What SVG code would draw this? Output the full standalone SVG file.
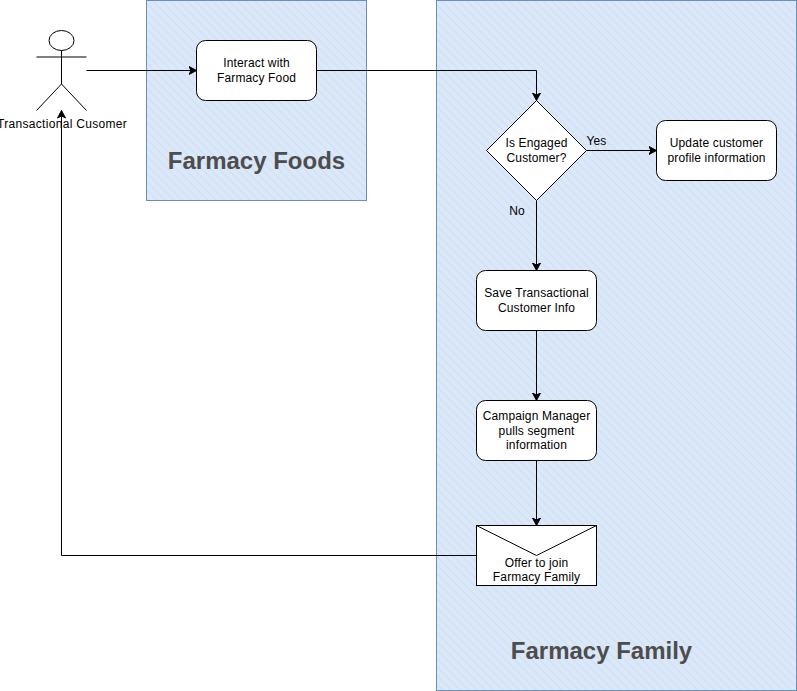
<svg xmlns="http://www.w3.org/2000/svg" width="797" height="691" viewBox="0 0 797 691">
<style>
text{font-family:"Liberation Sans",Arial,sans-serif;font-size:12px;fill:#000;text-anchor:middle;letter-spacing:.14px}
.box{fill:#fff;stroke:#000;stroke-width:1}
.zone{fill:url(#h);stroke:#6c8ebf;stroke-width:1}
.title{font-size:24px;font-weight:bold;fill:#4d4d4d;letter-spacing:0}
.c{fill:none;stroke:#000;stroke-width:1;marker-end:url(#a)}
</style>
<defs>
<pattern id="h" width="6" height="6" patternUnits="userSpaceOnUse" patternTransform="rotate(45)">
<rect width="6" height="6" fill="#dae8fc"/><rect width="6" height="1.2" y="0" fill="#d6dfe9"/>
</pattern>
<marker id="a" markerUnits="userSpaceOnUse" markerWidth="10" markerHeight="10" refX="8" refY="4.5" orient="auto">
<path d="M0.5 0.5L8 4.5L0.5 8.5L2.5 4.5Z" fill="#000" stroke="#000" stroke-width="1"/>
</marker>
</defs>
<g id="zone-foods"><rect class="zone" x="146.500" y="0.500" width="220" height="200"/><text class="title" x="256.500" y="169">Farmacy Foods</text></g>
<g id="zone-family"><rect class="zone" x="436.500" y="0.500" width="360" height="690"/><text class="title" x="601.500" y="659">Farmacy Family</text></g>
<g id="connectors">
<path class="c" d="M86.500 70.500H196.500"/>
<path class="c" d="M316.500 70.500H536.500V100.500"/>
<path class="c" d="M586.500 150.500H656.500"/>
<path class="c" d="M536.500 200.500V270.500"/>
<path class="c" d="M536.500 330.500V400.500"/>
<path class="c" d="M536.500 460.500V525.500"/>
<path class="c" d="M476.500 555.500H61.500V110.500"/>
<text x="596.500" y="145">Yes</text>
<text x="517" y="215">No</text>
</g>
<g id="actor" fill="none" stroke="#000">
<ellipse cx="61.500" cy="40.500" rx="12.500" ry="10" fill="#fff"/>
<path d="M61.500 50.500V84M36.500 57H86.500" fill="none"/>
<path d="M36.500 110.500L61.500 84L86.500 110.500" fill="none"/>
<text x="62" y="128" stroke="none" textLength="130" lengthAdjust="spacing">Transactional Cusomer</text>
</g>
<g id="interact"><rect class="box" x="196.500" y="40.500" width="120" height="60" rx="9"/><text x="256.500" y="67">Interact with</text><text x="256.500" y="82">Farmacy Food</text></g>
<g id="engaged"><path class="box" d="M536.500 100.500L586.500 150.500L536.500 200.500L486.500 150.500Z"/><text x="536.500" y="147">Is Engaged</text><text x="536.500" y="162">Customer?</text></g>
<g id="update"><rect class="box" x="656.500" y="120.500" width="120" height="60" rx="9"/><text x="716.500" y="147">Update customer</text><text x="716.500" y="162">profile information</text></g>
<g id="save"><rect class="box" x="476.500" y="270.500" width="120" height="60" rx="9"/><text x="536.500" y="297">Save Transactional</text><text x="536.500" y="312">Customer Info</text></g>
<g id="campaign"><rect class="box" x="476.500" y="400.500" width="120" height="60" rx="9"/><text x="536.500" y="420">Campaign Manager</text><text x="536.500" y="435">pulls segment</text><text x="536.500" y="449">information</text></g>
<g id="offer"><rect class="box" x="476.500" y="525.500" width="120" height="60"/><path d="M476.500 525.500L536.500 555.500L596.500 525.500" fill="none" stroke="#000"/><text x="536.500" y="567">Offer to join</text><text x="536.500" y="581">Farmacy Family</text></g>
</svg>
